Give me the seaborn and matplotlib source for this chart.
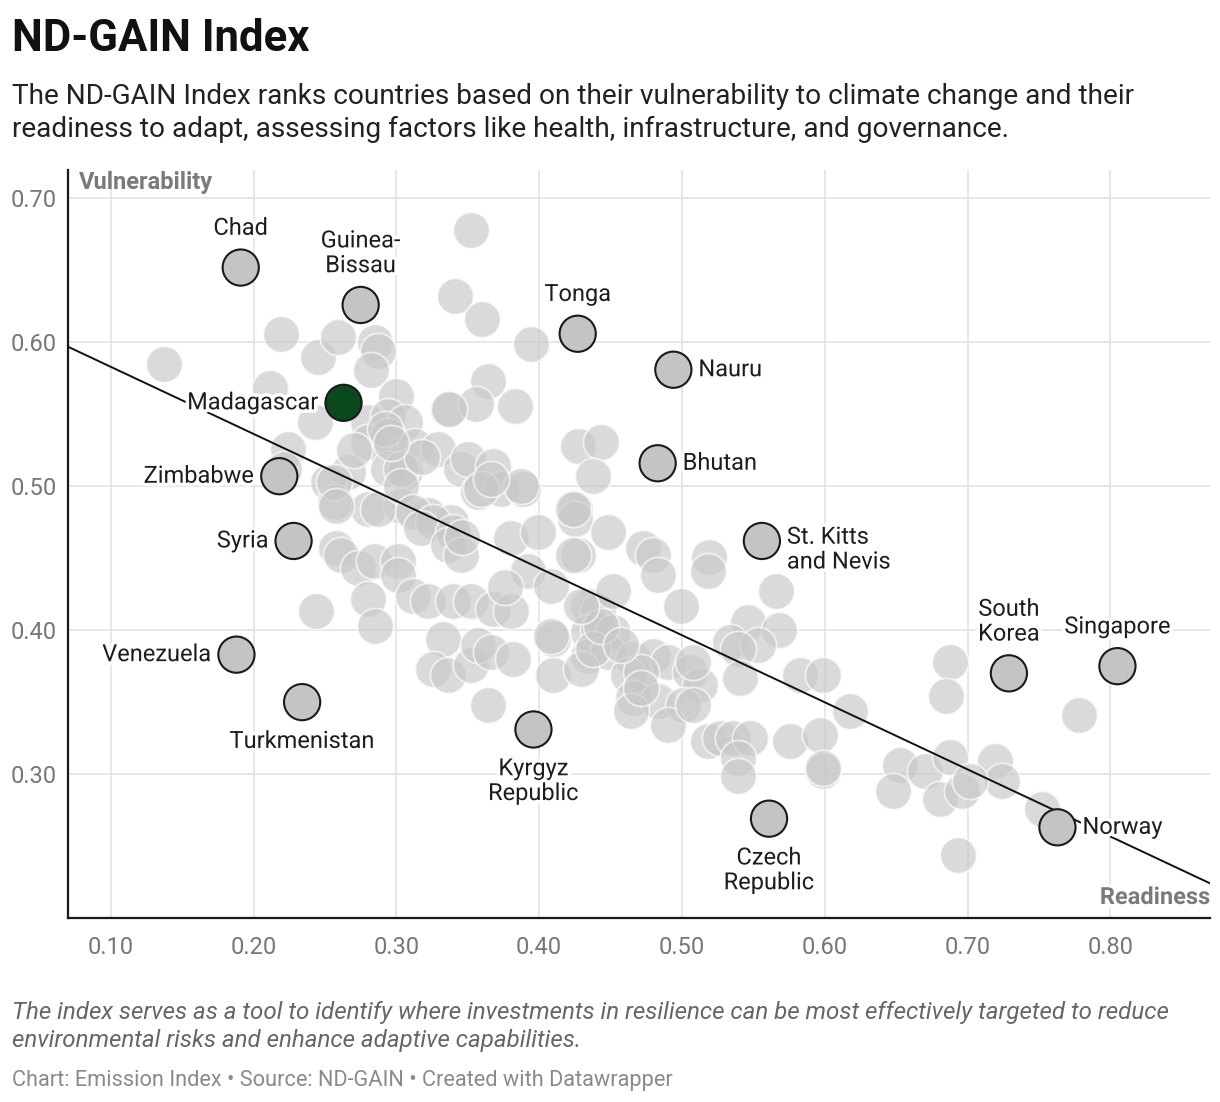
import matplotlib
matplotlib.use("Agg")
import matplotlib.pyplot as plt
import matplotlib.patheffects as pe
import seaborn as sns
import pandas as pd

# readiness (x) / vulnerability (y) of unlabelled countries
other_x = [
    0.137, 0.2115, 0.219, 0.245, 0.259, 0.285, 0.287, 0.282, 0.300, 0.336,
    0.243, 0.224, 0.280, 0.294, 0.306, 0.280, 0.294, 0.313, 0.266, 0.252,
    0.294, 0.306, 0.329, 0.345, 0.257, 0.280, 0.303, 0.322, 0.338, 0.3525,
    0.341, 0.360, 0.394, 0.364, 0.356, 0.383, 0.337, 0.427, 0.443, 0.438,
    0.350, 0.368, 0.357, 0.373, 0.389, 0.380, 0.399, 0.392, 0.408, 0.425,
    0.425, 0.427, 0.448, 0.473, 0.480, 0.483, 0.499, 0.519, 0.518, 0.566,
    0.546, 0.568, 0.534, 0.553, 0.539, 0.434, 0.441, 0.434, 0.441, 0.452,
    0.410, 0.434, 0.448, 0.466, 0.480, 0.490, 0.462, 0.471, 0.506, 0.513,
    0.466, 0.483, 0.501, 0.464, 0.490, 0.508, 0.518, 0.527, 0.536, 0.548,
    0.539, 0.539, 0.576, 0.597, 0.599, 0.583, 0.599, 0.618, 0.541, 0.508,
    0.221, 0.256, 0.258, 0.287, 0.303, 0.303, 0.312, 0.326, 0.317, 0.340,
    0.336, 0.345, 0.359, 0.387, 0.366, 0.258, 0.261, 0.273, 0.284, 0.301,
    0.301, 0.312, 0.280, 0.285, 0.244, 0.322, 0.340, 0.352, 0.368, 0.380,
    0.333, 0.326, 0.336, 0.352, 0.357, 0.366, 0.382, 0.364, 0.408, 0.410,
    0.429, 0.438, 0.443, 0.452, 0.429, 0.424, 0.424, 0.688, 0.685, 0.778,
    0.599, 0.653, 0.648, 0.670, 0.688, 0.681, 0.696, 0.719, 0.724, 0.752,
    0.693, 0.702, 0.292, 0.318, 0.270, 0.296, 0.346, 0.376, 0.457, 0.471,
]
other_y = [
    0.585, 0.568, 0.606, 0.590, 0.604, 0.600, 0.594, 0.581, 0.563, 0.554,
    0.545, 0.526, 0.545, 0.549, 0.545, 0.531, 0.535, 0.528, 0.510, 0.503,
    0.512, 0.510, 0.526, 0.512, 0.489, 0.484, 0.486, 0.480, 0.475, 0.678,
    0.632, 0.616, 0.599, 0.573, 0.557, 0.556, 0.554, 0.528, 0.531, 0.507,
    0.519, 0.514, 0.496, 0.498, 0.498, 0.464, 0.468, 0.441, 0.431, 0.484,
    0.477, 0.452, 0.468, 0.457, 0.452, 0.438, 0.417, 0.451, 0.441, 0.427,
    0.406, 0.400, 0.392, 0.390, 0.387, 0.417, 0.413, 0.399, 0.401, 0.399,
    0.394, 0.382, 0.385, 0.380, 0.382, 0.378, 0.369, 0.371, 0.371, 0.362,
    0.353, 0.351, 0.348, 0.344, 0.334, 0.348, 0.323, 0.325, 0.325, 0.325,
    0.311, 0.299, 0.323, 0.327, 0.302, 0.369, 0.369, 0.344, 0.367, 0.378,
    0.512, 0.503, 0.486, 0.484, 0.512, 0.500, 0.482, 0.475, 0.471, 0.468,
    0.459, 0.452, 0.498, 0.500, 0.505, 0.457, 0.452, 0.443, 0.448, 0.448,
    0.438, 0.424, 0.422, 0.403, 0.413, 0.420, 0.420, 0.420, 0.415, 0.413,
    0.394, 0.373, 0.369, 0.376, 0.390, 0.385, 0.380, 0.348, 0.396, 0.369,
    0.373, 0.387, 0.403, 0.427, 0.417, 0.484, 0.452, 0.378, 0.354, 0.341,
    0.304, 0.306, 0.288, 0.302, 0.312, 0.283, 0.288, 0.309, 0.295, 0.276,
    0.244, 0.295, 0.540, 0.520, 0.525, 0.530, 0.465, 0.430, 0.390, 0.360,
]

# labelled countries
label_names = [
    "Chad", "Guinea-\nBissau", "Tonga", "Nauru", "Madagascar", "Bhutan",
    "Zimbabwe", "Syria", "St. Kitts\nand Nevis", "Venezuela", "Turkmenistan",
    "Kyrgyz\nRepublic", "Czech\nRepublic", "South\nKorea", "Singapore", "Norway",
]
label_x = [0.191, 0.275, 0.427, 0.494, 0.263, 0.483, 0.218, 0.228, 0.556,
           0.188, 0.234, 0.396, 0.561, 0.729, 0.805, 0.763]
label_y = [0.652, 0.626, 0.606, 0.581, 0.558, 0.516, 0.507, 0.462, 0.462,
           0.383, 0.350, 0.331, 0.269, 0.370, 0.375, 0.263]
label_side = ["top", "top", "top", "right", "left", "right", "left", "left",
              "right", "left", "bottom", "bottom", "bottom", "top", "top", "right"]

# trend line end points
trend_x = [0.07, 0.87]
trend_y = [0.597, 0.224]

FONT = ["Roboto", "DejaVu Sans"]
sns.set_style("white")
plt.rcParams["font.family"] = FONT

others = pd.DataFrame({"readiness": other_x, "vulnerability": other_y})
labelled = pd.DataFrame({"name": label_names, "readiness": label_x,
                         "vulnerability": label_y, "side": label_side})
trend = pd.DataFrame({"readiness": trend_x, "vulnerability": trend_y})

fig = plt.figure(figsize=(12.2, 11.02), dpi=100)
ax = fig.add_axes([0.0557, 0.167, 0.9363, 0.679])

sns.scatterplot(data=others, x="readiness", y="vulnerability", ax=ax,
                s=680, color="#c8c8c8", alpha=0.66, edgecolor="white",
                linewidth=1.3, zorder=2)
sns.lineplot(data=trend, x="readiness", y="vulnerability", ax=ax,
             color="#111111", linewidth=1.4, zorder=3)
hl_colors = ["#0b4a1f" if n == "Madagascar" else "#c4c4c4" for n in label_names]
sns.scatterplot(data=labelled, x="readiness", y="vulnerability", ax=ax,
                s=680, hue="name", palette=hl_colors, edgecolor="#1a1a1a",
                linewidth=1.5, zorder=4, legend=False)

halo = [pe.withStroke(linewidth=5, foreground="white")]
offsets = {"top": (0, 20, "center", "bottom"), "bottom": (0, -20, "center", "top"),
           "left": (-18, 0, "right", "center"), "right": (18, 0, "left", "center")}
for _, row in labelled.iterrows():
    dx, dy, ha, va = offsets[row["side"]]
    ma = "left" if row["side"] == "right" else "center"
    txt = row["name"]
    if row["side"] == "right" and "\n" in txt:
        va = "top"
        dy = 11
    ax.annotate(txt, (row["readiness"], row["vulnerability"]),
                xytext=(dx, dy), textcoords="offset points", ha=ha, va=va,
                multialignment=ma, fontsize=17, color="#1d1d1d",
                linespacing=1.1, path_effects=halo, zorder=5)

ax.set_xlim(0.07, 0.87)
ax.set_ylim(0.20, 0.72)
ax.set_xticks([0.1, 0.2, 0.3, 0.4, 0.5, 0.6, 0.7, 0.8])
ax.set_yticks([0.3, 0.4, 0.5, 0.6, 0.7])
ax.xaxis.set_major_formatter(matplotlib.ticker.FormatStrFormatter("%.2f"))
ax.yaxis.set_major_formatter(matplotlib.ticker.FormatStrFormatter("%.2f"))
ax.grid(True, color="#e3e3e3", linewidth=1.2, zorder=0)
ax.set_axisbelow(True)
ax.tick_params(axis="both", length=0, labelsize=17, labelcolor="#777777")
ax.tick_params(axis="x", pad=13)
ax.tick_params(axis="y", pad=8)
for s in ["top", "right"]:
    ax.spines[s].set_visible(False)
for s in ["left", "bottom"]:
    ax.spines[s].set_color("#1a1a1a")
    ax.spines[s].set_linewidth(1.6)
ax.set_xlabel("")
ax.set_ylabel("")
ax.text(0.01, 0.998, "Vulnerability", transform=ax.transAxes, ha="left",
        va="top", fontsize=17, fontweight="bold", color="#7a7a7a", zorder=6)
ax.text(1.0, 0.012, "Readiness", transform=ax.transAxes, ha="right",
        va="bottom", fontsize=17, fontweight="bold", color="#7a7a7a",
        path_effects=halo, zorder=6)

fig.text(0.0098, 0.984, "ND-GAIN Index", ha="left", va="top", fontsize=31.5,
         fontweight="bold", color="#111111")
fig.text(0.0098, 0.925,
         "The ND-GAIN Index ranks countries based on their vulnerability to climate change and their\n"
         "readiness to adapt, assessing factors like health, infrastructure, and governance.",
         ha="left", va="top", fontsize=20.2, color="#222222", linespacing=1.3)
fig.text(0.0098, 0.092,
         "The index serves as a tool to identify where investments in resilience can be most effectively targeted to reduce\n"
         "environmental risks and enhance adaptive capabilities.",
         ha="left", va="top", fontsize=17.4, style="italic", color="#666666",
         linespacing=1.3)
fig.text(0.0098, 0.029,
         "Chart: Emission Index \u2022 Source: ND-GAIN \u2022 Created with Datawrapper",
         ha="left", va="top", fontsize=15.7, color="#8a8a8a")

fig.savefig("out.png", dpi=100)
